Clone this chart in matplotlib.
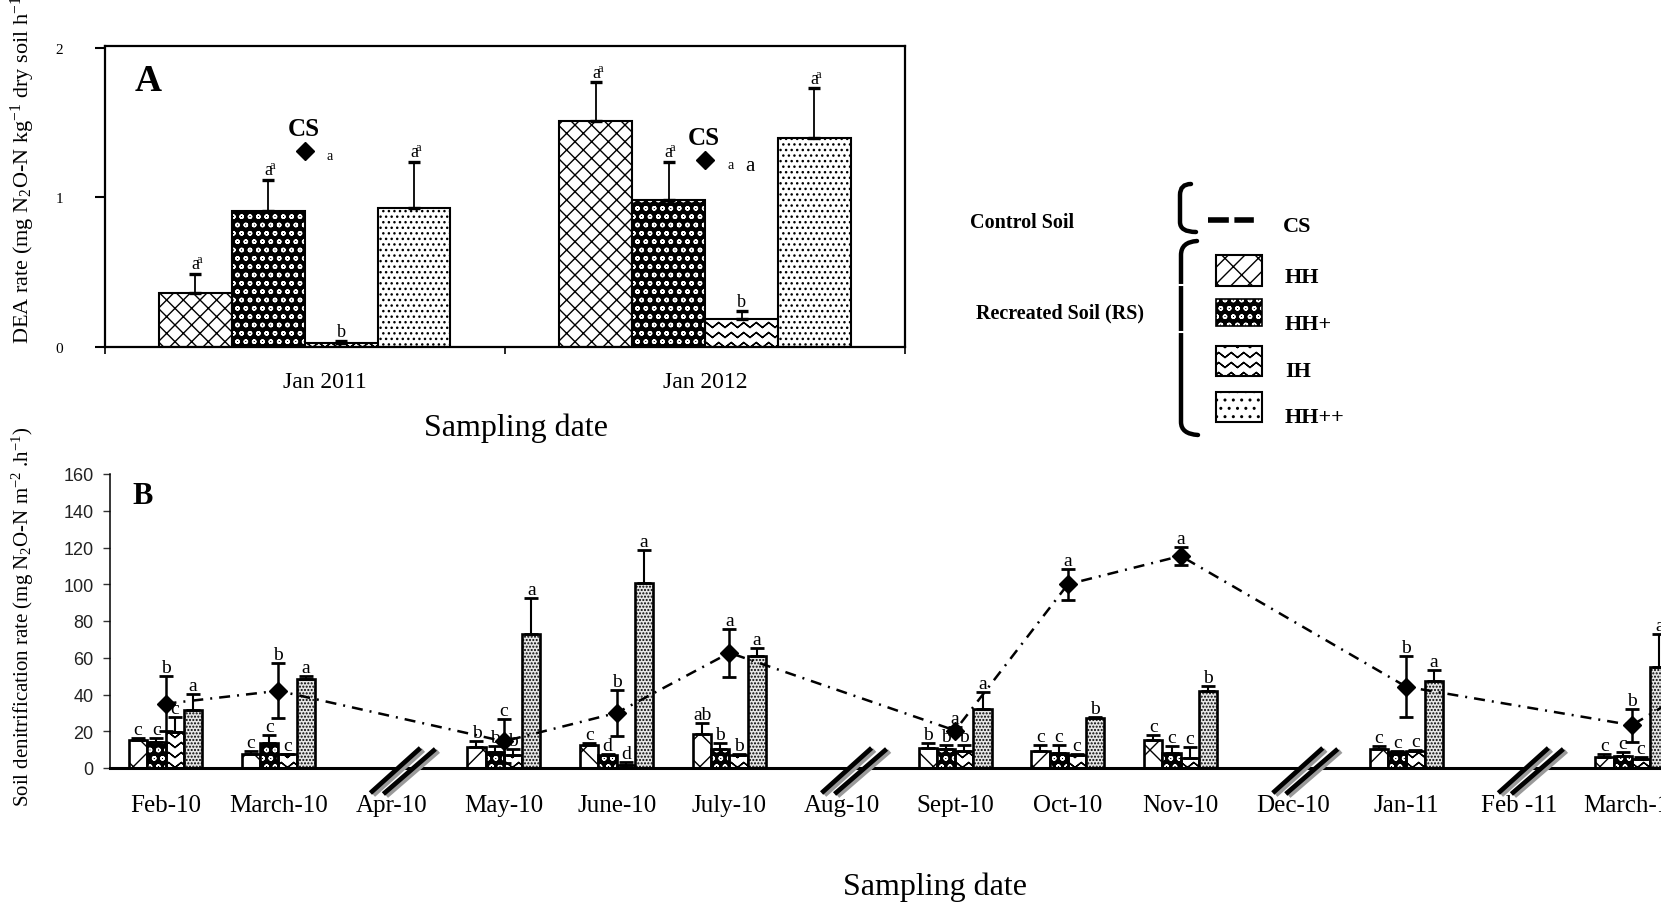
import numpy as np
import matplotlib
matplotlib.use('Agg')
import matplotlib.pyplot as plt
import matplotlib.hatch as mhatch
from matplotlib.path import Path
from matplotlib.patches import PathPatch, Rectangle

# ---------------- Panel A data (DEA rate) ----------------
a_dates = ['Jan 2011', 'Jan 2012']
a_hh = [0.36, 1.51]
a_hh_err = [0.13, 0.26]
a_hhp = [0.91, 0.98]
a_hhp_err = [0.21, 0.26]
a_ih = [0.03, 0.19]
a_ih_err = [0.01, 0.05]
a_hhpp = [0.93, 1.40]
a_hhpp_err = [0.31, 0.33]
a_cs = [1.31, 1.25]
a_let_hh = ['a', 'a']
a_let_hhp = ['a', 'a']
a_let_ih = ['b', 'b']
a_let_hhpp = ['a', 'a']
a_let_cs = ['a', 'a']

# ---------------- Panel B data (soil denitrification) ----------------
b_labels = ['Feb-10', 'March-10', 'Apr-10', 'May-10', 'June-10', 'July-10', 'Aug-10',
            'Sept-10', 'Oct-10', 'Nov-10', 'Dec-10', 'Jan-11', 'Feb -11', 'March-11']
b_sampled = [0, 1, 3, 4, 5, 7, 8, 9, 11, 13]
b_breaks = [2, 6, 10, 12]
b_hh = [15.0, 7.8, 11.5, 12.4, 18.5, 10.9, 9.5, 15.5, 10.5, 6.0]
b_hh_err = [1.3, 1.5, 3.0, 1.2, 6.0, 2.7, 2.9, 2.7, 1.5, 1.5]
b_hhp = [14.1, 13.6, 8.7, 6.9, 10.5, 10.5, 8.2, 8.2, 8.7, 6.4]
b_hhp_err = [2.4, 4.2, 3.3, 0.7, 3.0, 1.9, 4.2, 3.8, 0.4, 2.3]
b_ih = [19.6, 7.5, 7.3, 1.5, 7.3, 9.5, 7.3, 5.5, 9.5, 4.9]
b_ih_err = [8.1, 0.3, 3.2, 2.0, 0.3, 3.2, 0.3, 6.0, 0.5, 0.9]
b_hhpp = [31.7, 48.2, 72.7, 100.9, 60.9, 32.2, 27.3, 41.8, 47.3, 55.1]
b_hhpp_err = [8.5, 1.8, 20.0, 17.6, 4.6, 9.1, 0.4, 2.7, 6.3, 18.0]
b_cs = [35.0, 42.0, 14.5, 30.0, 62.7, 20.4, 100.0, 115.4, 44.2, 23.3]
b_cs_err = [15.0, 15.0, 12.0, 12.5, 13.0, 2.0, 8.5, 4.8, 16.5, 9.0]
b_cs_next_idx = 14      # next sampling (off the right edge)
b_cs_next = 60.0
b_let_hh = ['c', 'c', 'b', 'c', 'ab', 'b', 'c', 'c', 'c', 'c']
b_let_hhp = ['c', 'c', 'b', 'd', 'b', 'b', 'c', 'c', 'c', 'c']
b_let_ih = ['c', 'c', 'b', 'd', 'b', 'b', 'c', 'c', 'c', 'c']
b_let_hhpp = ['a', 'a', 'a', 'a', 'a', 'a', 'b', 'b', 'a', 'a']
b_let_cs = ['b', 'b', 'c', 'b', 'a', 'a', 'a', 'a', 'b', 'b']


# ---------------- custom zig-zag hatch (for IH) using '-' ----------------
class ZigZagHatch(mhatch.HatchPatternBase):
    def __init__(self, hatch, density):
        c = hatch.count('-')
        self.num_rows = int(c * density * 5 // 6)
        self.teeth = int(c * 4)
        m = 2 * self.teeth + 1
        self.num_vertices = self.num_rows * (2 * m - 1) if self.num_rows else 0

    def set_vertices_and_codes(self, vertices, codes):
        n, t = self.num_rows, self.teeth
        m = 2 * t + 1
        xs = np.linspace(0, 1, m)
        amp = 0.25 / n
        off = np.where(np.arange(m) % 2 == 0, -amp, amp)
        # forward then back along the same points -> zero-area (no fill), stroke only
        fx = np.concatenate([xs, xs[-2::-1]])
        fo = np.concatenate([off, off[-2::-1]])
        L = 2 * m - 1
        k = 0
        for r in range(n):
            y0 = (r + 0.5) / n
            vertices[k:k + L, 0] = fx
            vertices[k:k + L, 1] = y0 + fo
            codes[k] = Path.MOVETO
            codes[k + 1:k + L] = Path.LINETO
            k += L


mhatch._hatch_types = [ZigZagHatch if t is mhatch.HorizontalHatch else t
                       for t in mhatch._hatch_types]

plt.rcParams['font.family'] = ['Liberation Serif', 'DejaVu Serif']
plt.rcParams['mathtext.fontset'] = 'custom'
plt.rcParams['mathtext.rm'] = 'Liberation Serif'
plt.rcParams['mathtext.it'] = 'Liberation Serif:italic'
plt.rcParams['mathtext.bf'] = 'Liberation Serif:bold'
plt.rcParams['hatch.linewidth'] = 1.0

W, H = 1661, 903
fig = plt.figure(figsize=(W / 100, H / 100), dpi=100)


def fr(l, t, r, b):
    return [l / W, 1 - b / H, (r - l) / W, (b - t) / H]


HATCH = {
    'A': {'HH': 'xx', 'IH': '--', 'HH++': '...', 'HH+': 'oo'},
    'B': {'HH': 'x', 'IH': '--', 'HH++': '.....', 'HH+': 'oo'},
}


def draw_bars(ax, xs, hs, w, kind, lw, panel):
    hp = HATCH[panel][kind]
    if kind == 'HH+':
        ax.bar(xs, hs, w, facecolor='black', edgecolor='white', hatch=hp, linewidth=0, zorder=2)
        ax.bar(xs, hs, w, facecolor='none', edgecolor='black', linewidth=lw, zorder=2.1)
    elif kind == 'HH++':
        fc = 'white' if panel == 'A' else '#e6e6e6'
        ax.bar(xs, hs, w, facecolor=fc, edgecolor='black', hatch=hp, linewidth=lw, zorder=2)
    else:
        ax.bar(xs, hs, w, facecolor='white', edgecolor='black', hatch=hp, linewidth=lw, zorder=2)


def put_letters(ax, xs, tops, labs, size, dy=1.0, dx=0.0):
    for x, t, l in zip(xs, tops, labs):
        ax.annotate(l, (x, t), xytext=(dx, dy), textcoords='offset points',
                    ha='center', va='bottom', fontsize=size, zorder=6)


# ======================= Panel A =======================
axA = fig.add_axes(fr(104.5, 47, 905.4, 348))
axA.set_xlim(0, 2)
axA.set_ylim(0, 2.013)
a_x = np.arange(len(a_dates)) + 0.5
wA = 0.182
a_series = [('HH', a_hh, a_hh_err, a_let_hh), ('HH+', a_hhp, a_hhp_err, a_let_hhp),
            ('IH', a_ih, a_ih_err, a_let_ih), ('HH++', a_hhpp, a_hhpp_err, a_let_hhpp)]
for k, (kind, vals, errs, labs) in enumerate(a_series):
    xs = a_x + (k - 1.5) * wA
    draw_bars(axA, xs, vals, wA, kind, 1.5, 'A')
    axA.errorbar(xs, vals, yerr=[np.zeros(len(vals)), errs], fmt='none', ecolor='black',
                 elinewidth=1.3, capsize=4.2, capthick=2.4, zorder=3)
    tops = np.array(vals) + np.array(errs)
    if kind != 'IH':
        shown = [l + r'$\!^{\mathrm{' + l + '}}$' for l in labs]
        put_letters(axA, xs + 0.006, tops, shown, 13, dy=0.5)
    else:
        put_letters(axA, xs, tops, labs, 13, dy=0.5)

axA.plot(a_x, a_cs, linestyle='none', marker='D', markersize=9, color='black', zorder=4)
for x, v in zip(a_x, a_cs):
    axA.annotate('CS', (x, v), xytext=(-1, 16), textcoords='offset points', ha='center',
                 va='center', fontsize=18, fontweight='bold')
for x, v, l in zip(a_x, a_cs, a_let_cs):
    axA.annotate(l, (x, v), xytext=(18, -3), textcoords='offset points', ha='center',
                 va='center', fontsize=10)
axA.annotate(a_let_cs[1], (a_x[1], a_cs[1]), xytext=(32, -4), textcoords='offset points',
             ha='center', va='center', fontsize=15)

axA.set_yticks([0, 1, 2])
axA.set_yticklabels(['0', '1', '2'], fontsize=11)
axA.set_xticks([0, 1, 2])
axA.set_xticklabels([])
axA.set_xticks([0.55, 1.5], minor=True)
axA.set_xticklabels(a_dates, minor=True, fontsize=17)
axA.tick_params(axis='y', direction='out', length=7, width=1.5, pad=23)
axA.tick_params(axis='x', which='major', direction='out', length=5, width=1.2)
axA.tick_params(axis='x', which='minor', length=0, pad=17)
for s in axA.spines.values():
    s.set_linewidth(1.6)
axA.text(0.055, 0.885, 'A', transform=axA.transAxes, fontsize=27, fontweight='bold',
         ha='center', va='center')

# ======================= Panel B =======================
x0px, dxpx = 165.5, 112.8
xl, xr = -0.49, 13.6
axB = fig.add_axes(fr(x0px + xl * dxpx, 475, x0px + xr * dxpx, 769))
axB.set_xlim(xl, xr)
axB.set_ylim(0, 160)
bx = np.array(b_sampled, dtype=float)
wB = 0.162
b_series = [('HH', b_hh, b_hh_err, b_let_hh), ('HH+', b_hhp, b_hhp_err, b_let_hhp),
            ('IH', b_ih, b_ih_err, b_let_ih), ('HH++', b_hhpp, b_hhpp_err, b_let_hhpp)]
for k, (kind, vals, errs, labs) in enumerate(b_series):
    xs = bx + (k - 1.5) * wB
    draw_bars(axB, xs, vals, wB, kind, 1.9, 'B')
    axB.errorbar(xs, vals, yerr=[np.zeros(len(vals)), errs], fmt='none', ecolor='black',
                 elinewidth=1.5, capsize=5, capthick=2.0, zorder=3)
    put_letters(axB, xs, np.array(vals) + np.array(errs), labs, 14, dy=0.0)

cs_x = list(b_sampled) + [b_cs_next_idx]
cs_y = list(b_cs) + [b_cs_next]
axB.plot(cs_x, cs_y, color='black', lw=1.8, linestyle=(0, (4.4, 2.8, 0.8, 2.8)),
         zorder=4, clip_on=False)
axB.errorbar(bx, b_cs, yerr=b_cs_err, fmt='none', ecolor='black', elinewidth=1.8,
             capsize=5, capthick=2.0, zorder=4)
axB.plot(bx, b_cs, linestyle='none', marker='D', markersize=9, color='black', zorder=5)
put_letters(axB, bx, np.array(b_cs) + np.array(b_cs_err), b_let_cs, 14, dy=0.0)

axB.set_yticks(np.arange(0, 161, 20))
axB.set_yticklabels([str(v) for v in range(0, 161, 20)], fontsize=13,
                    family='Liberation Sans', color='#222222')
axB.set_xticks(np.arange(len(b_labels)))
axB.set_xticklabels(b_labels, fontsize=18)
axB.tick_params(axis='x', length=0, pad=19)
axB.tick_params(axis='y', direction='out', length=5, width=1.0, color='#333333', pad=7)
axB.spines['top'].set_visible(False)
axB.spines['right'].set_visible(False)
axB.spines['bottom'].set_linewidth(2.2)
axB.spines['left'].set_linewidth(1.1)

# ======================= overlay (texts, legend, break marks) =======================
ov = fig.add_axes([0, 0, 1, 1])
ov.set_xlim(0, W)
ov.set_ylim(H, 0)
ov.axis('off')

ov.text(143, 497, 'B', fontsize=22, fontweight='bold', ha='center', va='center')

# axis titles
ov.text(23, 344, 'DEA rate (mg N$_2$O-N kg$^{-1}$ dry soil h$^{-1}$)', rotation=90,
        ha='center', va='bottom', fontsize=16)
ov.text(23, 617, 'Soil denitrification rate (mg N$_2$O-N m$^{-2}$ .h$^{-1}$)', rotation=90,
        ha='center', va='center', fontsize=15)
ov.text(516, 428, 'Sampling date', ha='center', va='center', fontsize=23)
ov.text(935, 887, 'Sampling date', ha='center', va='center', fontsize=23)

# break marks on the time axis
for b in b_breaks:
    px, py = axB.transData.transform((b + 0.1, 0))
    cx, cy = px, H - py + 3
    for (ax0, ay0, ax1, ay1) in [(-32, 22, 18, -23), (-19, 23, 33, -22)]:
        ov.plot([cx + ax0 + 3, cx + ax1 + 3], [cy + ay0 + 2, cy + ay1 + 2], color='#9a9a9a',
                lw=3.6, solid_capstyle='butt')
        ov.plot([cx + ax0, cx + ax1], [cy + ay0, cy + ay1], color='black', lw=3.4,
                solid_capstyle='butt')

# legend
ov.text(1022, 223, 'Control Soil', ha='center', va='center', fontsize=14.5, fontweight='bold')
ov.text(1060, 313, 'Recreated Soil (RS)', ha='center', va='center', fontsize=14.5,
        fontweight='bold')
top_brace = Path([(1191, 185), (1180, 185), (1180, 196), (1180, 223), (1180, 233), (1196, 233)],
                 [Path.MOVETO, Path.CURVE3, Path.CURVE3, Path.LINETO, Path.CURVE3, Path.CURVE3])
bot_brace = Path([(1197, 242), (1181, 243), (1181, 256), (1181, 423), (1181, 435), (1198, 436)],
                 [Path.MOVETO, Path.CURVE3, Path.CURVE3, Path.LINETO, Path.CURVE3, Path.CURVE3])
for p in (top_brace, bot_brace):
    ov.add_patch(PathPatch(p, facecolor='none', edgecolor='black', lw=3.2, capstyle='round'))
for gy in (286, 333):
    ov.plot([1176, 1186], [gy, gy], color='white', lw=1.5)

ov.plot([1208, 1256], [221, 221], color='black', lw=4,
        linestyle=(0, (3.75, 1.0, 3.5, 2.25, 1.5, 3.0)))
ov.text(1283, 227, 'CS', ha='left', va='center', fontsize=16, fontweight='bold')

leg_items = [('HH', 256, 287, 278), ('HH+', 300, 327, 325), ('IH', 347, 377, 372),
             ('HH++', 393, 423, 418)]
leg_hatch = {'HH': 'x/', 'HH+': 'oo', 'IH': '--', 'HH++': '..'}
for name, t, b, ty in leg_items:
    if name == 'HH+':
        ov.add_patch(Rectangle((1216, t), 46, b - t, facecolor='black', edgecolor='white',
                               hatch=leg_hatch[name], lw=0))
        ov.add_patch(Rectangle((1216, t), 46, b - t, facecolor='none', edgecolor='black', lw=1.2))
    else:
        ov.add_patch(Rectangle((1216, t), 46, b - t, facecolor='white', edgecolor='black',
                               hatch=leg_hatch[name], lw=1.5))
    ov.text(1285, ty, name, ha='left', va='center', fontsize=16, fontweight='bold')

fig.savefig('out.png', dpi=100)
